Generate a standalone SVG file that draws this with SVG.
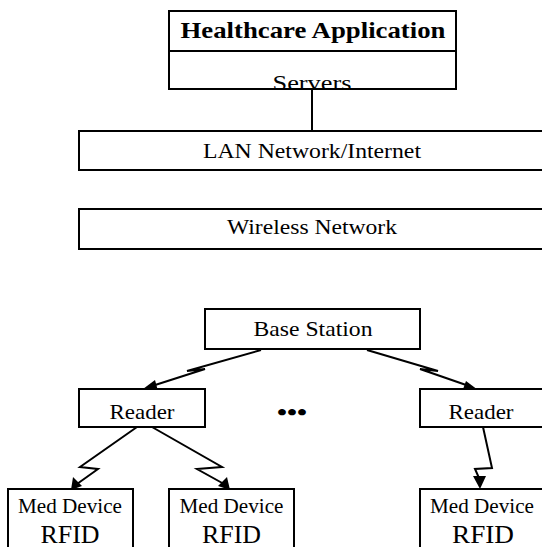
<svg xmlns="http://www.w3.org/2000/svg" width="542" height="547" viewBox="0 0 542 547">
<style>
.box{fill:#fff;stroke:#000;stroke-width:2}
.t{font-family:"Liberation Serif","Times New Roman",serif;font-size:21px;fill:#000;text-anchor:middle}
.b{font-weight:bold;font-size:23px}
.rf{font-size:25px}
.c{fill:none;stroke:#000;stroke-width:2;stroke-linejoin:miter}
.ah{fill:#000;stroke:none}
</style>
<defs>
<clipPath id="srvclip"><rect x="169" y="52" width="287" height="36"/></clipPath>
</defs>
<rect width="542" height="547" fill="#fff"/>
<g id="connectors">
<line class="c" x1="312" y1="89" x2="312" y2="131"/>
<polyline class="c" points="261,350 187,371 205,369 152,386"/>
<polygon class="ah" points="143,389 155,380 158,391"/>
<polyline class="c" points="367,350 438,371 420,369 469,386"/>
<polygon class="ah" points="478,390 466,381 462,392"/>
<polyline class="c" points="137,427 80,467 98,469 77,484"/>
<polygon class="ah" points="71,490 73,477 82,486"/>
<polyline class="c" points="152,427 222,467 197,469 224,484"/>
<polygon class="ah" points="230,490 218,486 227,477"/>
<polyline class="c" points="483,427 492,468 475,469 479,478"/>
<polygon class="ah" points="480,489 473,476 486,476"/>
</g>
<g id="healthcare">
<rect class="box" x="169" y="11" width="287" height="78"/>
<line class="c" x1="169" y1="51" x2="456" y2="51"/>
<text class="t b" x="313" y="38" textLength="265" lengthAdjust="spacingAndGlyphs">Healthcare Application</text>
<text class="t" x="312" y="89.5" textLength="79" lengthAdjust="spacingAndGlyphs" clip-path="url(#srvclip)">Servers</text>
</g>
<g id="lan">
<rect class="box" x="79" y="131" width="466" height="39"/>
<text class="t" x="312" y="158" textLength="218" lengthAdjust="spacingAndGlyphs">LAN Network/Internet</text>
</g>
<g id="wireless">
<rect class="box" x="79" y="209" width="466" height="40"/>
<text class="t" x="312" y="234" textLength="170" lengthAdjust="spacingAndGlyphs">Wireless Network</text>
</g>
<g id="base">
<rect class="box" x="205" y="309" width="215" height="40"/>
<text class="t" x="313" y="336" textLength="119" lengthAdjust="spacingAndGlyphs">Base Station</text>
</g>
<g id="reader1">
<rect class="box" x="79" y="389" width="126" height="38"/>
<text class="t" x="142" y="419" textLength="65" lengthAdjust="spacingAndGlyphs">Reader</text>
</g>
<g id="dots">
<text class="t b" x="292" y="420" textLength="30" lengthAdjust="spacingAndGlyphs">•••</text>
</g>
<g id="reader2">
<rect class="box" x="420" y="389" width="125" height="38"/>
<text class="t" x="481" y="419" textLength="65" lengthAdjust="spacingAndGlyphs">Reader</text>
</g>
<g id="med1">
<rect class="box" x="8" y="489" width="125" height="70"/>
<text class="t" x="70" y="512.5" textLength="104" lengthAdjust="spacingAndGlyphs">Med Device</text>
<text class="t rf" x="70" y="543" textLength="59" lengthAdjust="spacingAndGlyphs">RFID</text>
</g>
<g id="med2">
<rect class="box" x="169" y="489" width="125" height="70"/>
<text class="t" x="231.5" y="512.5" textLength="104" lengthAdjust="spacingAndGlyphs">Med Device</text>
<text class="t rf" x="231.5" y="543" textLength="59" lengthAdjust="spacingAndGlyphs">RFID</text>
</g>
<g id="med3">
<rect class="box" x="420" y="489" width="125" height="70"/>
<text class="t" x="482" y="512.5" textLength="104" lengthAdjust="spacingAndGlyphs">Med Device</text>
<text class="t rf" x="483" y="543" textLength="62" lengthAdjust="spacingAndGlyphs">RFID</text>
</g>
</svg>
